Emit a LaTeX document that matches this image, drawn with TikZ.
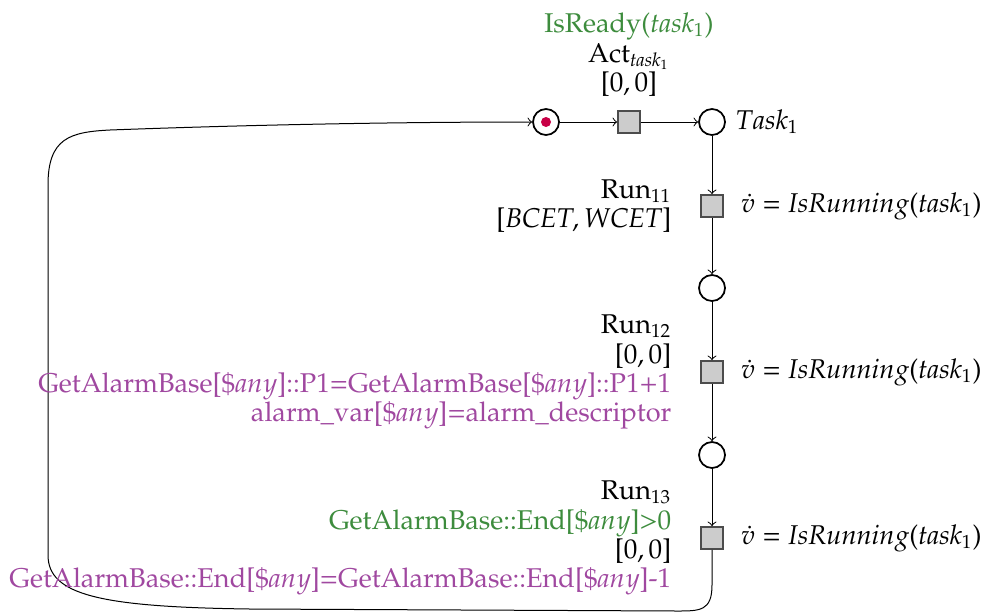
\documentclass[tikz,border=0pt]{standalone}
\usepackage[T1]{fontenc}
\usepackage{pxfonts}
\usetikzlibrary{positioning}
\definecolor{okgreen}{RGB}{61,140,61}
\definecolor{okpurple}{RGB}{160,72,160}
\definecolor{tokred}{RGB}{200,0,70}
\begin{document}
\begin{tikzpicture}[x=0.4pt,y=-0.4pt,
  every node/.style={font=\fontsize{10.85}{11.75}\selectfont},
  place/.style={circle,draw=black,line width=0.7pt,minimum size=10.4pt,inner sep=0pt},
  trans/.style={rectangle,draw=black!70,fill=black!20,line width=0.7pt,minimum size=8.8pt,inner sep=0pt},
  arc/.style={->,>=to,line width=0.4pt},
  leftlbl/.style={left=8pt of #1,align=right},
  rightlbl/.style={right=3.5pt of #1}
]
\useasboundingbox (0,0) rectangle (991,613);
% places and transitions
\node[place] (p0) at (546,122) {};
\fill[tokred] (p0.center) circle (2pt);
\node[trans] (t0) at (629,122) {};
\node[place] (p1) at (712,122) {};
\node[trans] (t1) at (712,206) {};
\node[place] (p2) at (712,288) {};
\node[trans] (t2) at (712,372) {};
\node[place] (p3) at (712,455) {};
\node[trans] (t3) at (712,538) {};
% arcs
\draw[arc] (p0) -- (t0);
\draw[arc] (t0) -- (p1);
\draw[arc] (p1) -- (t1);
\draw[arc] (t1) -- (p2);
\draw[arc] (p2) -- (t2);
\draw[arc] (t2) -- (p3);
\draw[arc] (p3) -- (t3);
\coordinate (c1) at (712,585);
\coordinate (c2) at (677,611);
\coordinate (c3) at (250,609);
\coordinate (c4) at (48,555);
\coordinate (c5) at (48,185);
\coordinate (c6) at (110,130);
\draw[arc] (t3.south) -- (c1) .. controls (712,611) and (700,611) .. (c2)
  -- (c3) .. controls (100,607) and (48,595) .. (c4) -- (c5)
  .. controls (48,138) and (70,132) .. (c6)
  .. controls (300,123) and (450,122) .. (p0.west);
% labels
\node[above=2pt of t0,align=center] (l0) {\textcolor{okgreen}{IsReady$(task_1)$}\\Act$_{task_1}$\\$[0,0]$};
\node[right=0.5pt of p1] (lp1) {$Task_1$};
\node[leftlbl=t1] (l1) {Run$_{11}$\\$[BCET,WCET]$};
\node[rightlbl=t1] (r1) {$\dot{v} = IsRunning(task_1)$};
\node[leftlbl=t2] (l2) {Run$_{12}$\\$[0,0]$\\
  \textcolor{okpurple}{GetAlarmBase[\$$any$]::P1=GetAlarmBase[\$$any$]::P1+1}\\
  \textcolor{okpurple}{alarm\_var[\$$any$]=alarm\_descriptor}};
\node[rightlbl=t2] (r2) {$\dot{v} = IsRunning(task_1)$};
\node[leftlbl=t3] (l3) {Run$_{13}$\\
  \textcolor{okgreen}{GetAlarmBase::End[\$$any$]>0}\\$[0,0]$\\
  \textcolor{okpurple}{GetAlarmBase::End[\$$any$]=GetAlarmBase::End[\$$any$]-1}};
\node[rightlbl=t3] (r3) {$\dot{v} = IsRunning(task_1)$};
\end{tikzpicture}
\end{document}
